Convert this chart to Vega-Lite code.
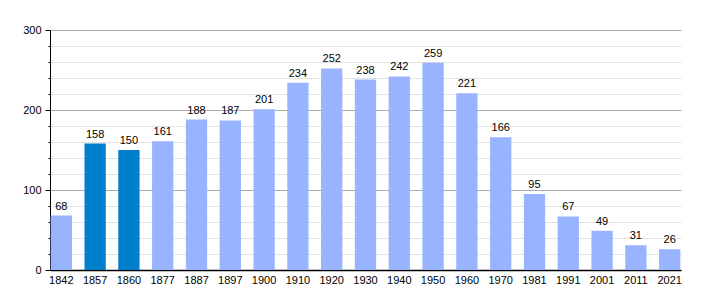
{
  "$schema": "https://vega.github.io/schema/vega-lite/v6.json",
  "width": 631,
  "height": 240,
  "autosize": "none",
  "padding": {"left": 50, "top": 30, "right": 29, "bottom": 30},
  "background": "white",
  "config": {"view": {"stroke": null}, "font": "Liberation Sans"},
  "data": {"values": [
    {"year": "1842", "pop": 68},
    {"year": "1857", "pop": 158},
    {"year": "1860", "pop": 150},
    {"year": "1877", "pop": 161},
    {"year": "1887", "pop": 188},
    {"year": "1897", "pop": 187},
    {"year": "1900", "pop": 201},
    {"year": "1910", "pop": 234},
    {"year": "1920", "pop": 252},
    {"year": "1930", "pop": 238},
    {"year": "1940", "pop": 242},
    {"year": "1950", "pop": 259},
    {"year": "1960", "pop": 221},
    {"year": "1970", "pop": 166},
    {"year": "1981", "pop": 95},
    {"year": "1991", "pop": 67},
    {"year": "2001", "pop": 49},
    {"year": "2011", "pop": 31},
    {"year": "2021", "pop": 26}
  ]},
  "encoding": {
    "x": {
      "field": "year", "type": "ordinal", "sort": null,
      "scale": {"paddingInner": 0.37, "paddingOuter": 0.02},
      "axis": {"title": null, "labelAngle": 0, "ticks": false, "labelPadding": 4, "labelFontSize": 11, "labelColor": "#000", "domainColor": "#000", "domainWidth": 1.5, "grid": false}
    },
    "y": {
      "field": "pop", "type": "quantitative",
      "scale": {"domain": [0, 300], "nice": false},
      "axis": {
        "title": null,
        "values": [0, 20, 40, 60, 80, 100, 120, 140, 160, 180, 200, 220, 240, 260, 280, 300],
        "labelExpr": "datum.value % 100 === 0 ? datum.label : ''",
        "labelFontSize": 11, "labelColor": "#000", "labelPadding": 4,
        "domainColor": "#000", "tickColor": "#000",
        "tickSize": {"condition": {"test": "datum.value % 100 === 0", "value": 5}, "value": 2},
        "grid": true,
        "gridColor": {"condition": {"test": "datum.value % 100 === 0", "value": "#aaaaaa"}, "value": "#e2e2e2"}
      }
    }
  },
  "layer": [
    {
      "mark": {"type": "bar"},
      "encoding": {
        "color": {
          "condition": {"test": "datum.year === '1857' || datum.year === '1860'", "value": "#0080cc"},
          "value": "#99b4ff"
        }
      }
    },
    {
      "mark": {"type": "text", "baseline": "bottom", "dy": -4, "fontSize": 11, "color": "#000"},
      "encoding": {"text": {"field": "pop", "type": "quantitative"}}
    }
  ]
}
